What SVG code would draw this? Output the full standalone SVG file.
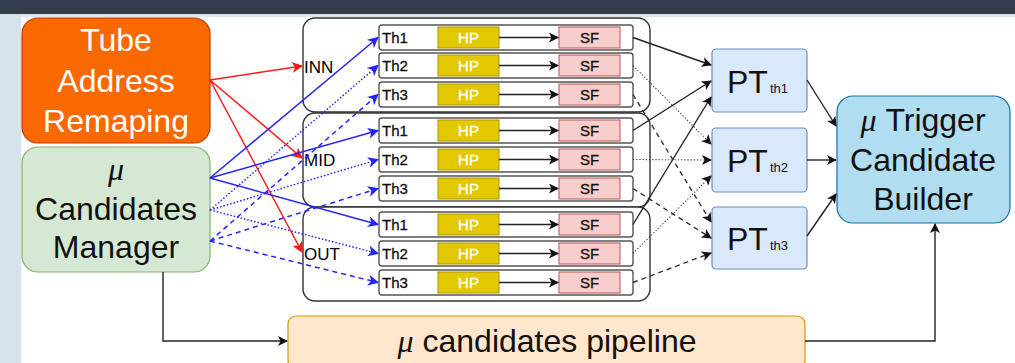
<svg xmlns="http://www.w3.org/2000/svg" width="1015" height="363" viewBox="0 0 1015 363">
<style>
.t{font-family:"Liberation Sans",Arial,sans-serif}
.mu{font-family:"Liberation Serif","Times New Roman",serif;font-style:italic}
.big{font-size:32px}
.grp{fill:#fff;stroke:#333;stroke-width:1.4}
.row{fill:#fff;stroke:#555;stroke-width:1.4}
.hp{fill:#e3c800;stroke:#b09500;stroke-width:1}
.sf{fill:#f8cecc;stroke:#b85450;stroke-width:1}
.pt{fill:#dae8fc;stroke:#6c8ebf;stroke-width:1.2}
.lbl{font-size:15px;fill:#111;stroke:#111;stroke-width:0.3}
.hpl{fill:#fff;stroke:#fff}
.red{stroke:#ff1a1a;stroke-width:1.5;fill:none;marker-end:url(#ar)}
.blue{stroke:#2424ff;stroke-width:1.5;fill:none;marker-end:url(#ab)}
.dot{stroke-dasharray:1.5 2}
.dash{stroke-dasharray:5 4}
.blk{stroke:#222;stroke-width:1.4;fill:none;marker-end:url(#ak)}
.bdot{stroke:#333;stroke-width:1.1;stroke-dasharray:1.2 2}
.bdash{stroke:#333;stroke-width:1.4;stroke-dasharray:5 4}
</style>
<defs>
<marker id="ak" markerWidth="10" markerHeight="10" refX="9" refY="5" orient="auto" markerUnits="userSpaceOnUse"><path d="M0,0 L10,5 L0,10 L2.5,5 Z" fill="#111"/></marker>
<marker id="ar" markerWidth="11" markerHeight="11" refX="10" refY="5.5" orient="auto" markerUnits="userSpaceOnUse"><path d="M0,0 L11,5.5 L0,11 L3,5.5 Z" fill="#ff1a1a"/></marker>
<marker id="ab" markerWidth="11" markerHeight="11" refX="10" refY="5.5" orient="auto" markerUnits="userSpaceOnUse"><path d="M0,0 L11,5.5 L0,11 L3,5.5 Z" fill="#2424ff"/></marker>
</defs>
<rect width="1015" height="363" fill="#fff"/>
<rect x="0" y="0" width="1015" height="14" fill="#333d4f"/>
<rect x="0" y="14" width="1015" height="3" fill="#dde6e9"/>
<rect x="0" y="14" width="21" height="349" fill="#d6e3e9"/>

<g id="tube-address-remaping">
<rect x="22" y="18" width="188" height="125" rx="16" fill="#fa6800" stroke="#c73500" stroke-width="1.2"/>
<text class="t big" fill="#fff" text-anchor="middle" x="116" y="51">Tube</text>
<text class="t big" fill="#fff" text-anchor="middle" x="116" y="92">Address</text>
<text class="t big" fill="#fff" text-anchor="middle" x="116" y="132">Remaping</text>
</g>

<g id="candidates-manager">
<rect x="22" y="147" width="188" height="125" rx="16" fill="#d5e8d4" stroke="#82b366" stroke-width="1.2"/>
<text class="mu big" fill="#111" text-anchor="middle" x="116" y="180">μ</text>
<text class="t big" fill="#111" text-anchor="middle" x="116" y="220">Candidates</text>
<text class="t big" fill="#111" text-anchor="middle" x="116" y="258">Manager</text>
</g>

<g id="group-inn">
<rect class="grp" x="303" y="18" width="347" height="94" rx="12"/>
<text class="t" font-size="17" x="304" y="73">INN</text>
</g>
<g id="group-mid">
<rect class="grp" x="303" y="113" width="347" height="94" rx="12"/>
<text class="t" font-size="17" x="304" y="166">MID</text>
</g>
<g id="group-out">
<rect class="grp" x="303" y="207" width="347" height="94" rx="12"/>
<text class="t" font-size="17" x="304" y="260">OUT</text>
</g>

<g id="inn-th1"><rect class="row" x="379" y="25" width="254" height="25" rx="3"/><text class="t lbl" x="382" y="43">Th1</text><rect class="hp" x="438" y="27" width="61" height="21"/><text class="t lbl hpl" text-anchor="middle" x="468.5" y="43">HP</text><rect class="sf" x="559" y="27" width="61" height="21"/><text class="t lbl" text-anchor="middle" x="589.5" y="43">SF</text></g>
<g id="inn-th2"><rect class="row" x="379" y="53" width="254" height="25" rx="3"/><text class="t lbl" x="382" y="71">Th2</text><rect class="hp" x="438" y="55" width="61" height="21"/><text class="t lbl hpl" text-anchor="middle" x="468.5" y="71">HP</text><rect class="sf" x="559" y="55" width="61" height="21"/><text class="t lbl" text-anchor="middle" x="589.5" y="71">SF</text></g>
<g id="inn-th3"><rect class="row" x="379" y="82" width="254" height="25" rx="3"/><text class="t lbl" x="382" y="100">Th3</text><rect class="hp" x="438" y="84" width="61" height="21"/><text class="t lbl hpl" text-anchor="middle" x="468.5" y="100">HP</text><rect class="sf" x="559" y="84" width="61" height="21"/><text class="t lbl" text-anchor="middle" x="589.5" y="100">SF</text></g>

<g id="mid-th1"><rect class="row" x="379" y="118" width="254" height="25" rx="3"/><text class="t lbl" x="382" y="136">Th1</text><rect class="hp" x="438" y="120" width="61" height="21"/><text class="t lbl hpl" text-anchor="middle" x="468.5" y="136">HP</text><rect class="sf" x="559" y="120" width="61" height="21"/><text class="t lbl" text-anchor="middle" x="589.5" y="136">SF</text></g>
<g id="mid-th2"><rect class="row" x="379" y="147" width="254" height="25" rx="3"/><text class="t lbl" x="382" y="165">Th2</text><rect class="hp" x="438" y="149" width="61" height="21"/><text class="t lbl hpl" text-anchor="middle" x="468.5" y="165">HP</text><rect class="sf" x="559" y="149" width="61" height="21"/><text class="t lbl" text-anchor="middle" x="589.5" y="165">SF</text></g>
<g id="mid-th3"><rect class="row" x="379" y="176" width="254" height="25" rx="3"/><text class="t lbl" x="382" y="194">Th3</text><rect class="hp" x="438" y="178" width="61" height="21"/><text class="t lbl hpl" text-anchor="middle" x="468.5" y="194">HP</text><rect class="sf" x="559" y="178" width="61" height="21"/><text class="t lbl" text-anchor="middle" x="589.5" y="194">SF</text></g>

<g id="out-th1"><rect class="row" x="379" y="212" width="254" height="25" rx="3"/><text class="t lbl" x="382" y="230">Th1</text><rect class="hp" x="438" y="214" width="61" height="21"/><text class="t lbl hpl" text-anchor="middle" x="468.5" y="230">HP</text><rect class="sf" x="559" y="214" width="61" height="21"/><text class="t lbl" text-anchor="middle" x="589.5" y="230">SF</text></g>
<g id="out-th2"><rect class="row" x="379" y="241" width="254" height="25" rx="3"/><text class="t lbl" x="382" y="259">Th2</text><rect class="hp" x="438" y="243" width="61" height="21"/><text class="t lbl hpl" text-anchor="middle" x="468.5" y="259">HP</text><rect class="sf" x="559" y="243" width="61" height="21"/><text class="t lbl" text-anchor="middle" x="589.5" y="259">SF</text></g>
<g id="out-th3"><rect class="row" x="379" y="270" width="254" height="25" rx="3"/><text class="t lbl" x="382" y="288">Th3</text><rect class="hp" x="438" y="272" width="61" height="21"/><text class="t lbl hpl" text-anchor="middle" x="468.5" y="288">HP</text><rect class="sf" x="559" y="272" width="61" height="21"/><text class="t lbl" text-anchor="middle" x="589.5" y="288">SF</text></g>

<g id="pt-th1"><rect class="pt" x="712" y="49" width="95" height="63" rx="4"/><text class="t" fill="#111" x="727" y="93"><tspan font-size="32">PT</tspan><tspan font-size="13" dx="2">th1</tspan></text></g>
<g id="pt-th2"><rect class="pt" x="712" y="128" width="95" height="64" rx="4"/><text class="t" fill="#111" x="727" y="172"><tspan font-size="32">PT</tspan><tspan font-size="13" dx="2">th2</tspan></text></g>
<g id="pt-th3"><rect class="pt" x="712" y="207" width="95" height="62" rx="4"/><text class="t" fill="#111" x="727" y="250"><tspan font-size="32">PT</tspan><tspan font-size="13" dx="2">th3</tspan></text></g>

<g id="trigger-candidate-builder">
<rect x="837" y="96" width="173" height="127" rx="16" fill="#b1ddf0" stroke="#10739e" stroke-width="1.2"/>
<text class="t big" fill="#111" text-anchor="middle" x="923" y="131"><tspan class="mu">μ</tspan> Trigger</text>
<text class="t big" fill="#111" text-anchor="middle" x="923" y="171">Candidate</text>
<text class="t big" fill="#111" text-anchor="middle" x="923" y="210">Builder</text>
</g>

<g id="candidates-pipeline">
<rect x="288" y="316" width="517" height="52" rx="8" fill="#ffe6cc" stroke="#d79b00" stroke-width="1.2"/>
<text class="t big" fill="#111" text-anchor="middle" x="547" y="352"><tspan class="mu">μ</tspan> candidates pipeline</text>
</g>

<g id="connectors">
<line class="blk" x1="499" y1="37.5" x2="558" y2="37.5"/>
<line class="blk" x1="499" y1="65.5" x2="558" y2="65.5"/>
<line class="blk" x1="499" y1="94.5" x2="558" y2="94.5"/>
<line class="blk" x1="499" y1="130.5" x2="558" y2="130.5"/>
<line class="blk" x1="499" y1="159.5" x2="558" y2="159.5"/>
<line class="blk" x1="499" y1="188.5" x2="558" y2="188.5"/>
<line class="blk" x1="499" y1="224.5" x2="558" y2="224.5"/>
<line class="blk" x1="499" y1="253.5" x2="558" y2="253.5"/>
<line class="blk" x1="499" y1="282.5" x2="558" y2="282.5"/>

<line class="red" x1="210" y1="80" x2="302" y2="66"/>
<line class="red" x1="210" y1="80" x2="302" y2="158"/>
<line class="red" x1="210" y1="80" x2="302" y2="252"/>

<line class="blue" x1="210" y1="178" x2="378" y2="37.5"/>
<line class="blue" x1="210" y1="178" x2="378" y2="130.5"/>
<line class="blue" x1="210" y1="178" x2="378" y2="224.5"/>
<line class="blue dot" x1="210" y1="210" x2="378" y2="65.5"/>
<line class="blue dot" x1="210" y1="210" x2="378" y2="159.5"/>
<line class="blue dot" x1="210" y1="210" x2="378" y2="253.5"/>
<line class="blue dash" x1="210" y1="241" x2="378" y2="94.5"/>
<line class="blue dash" x1="210" y1="241" x2="378" y2="188.5"/>
<line class="blue dash" x1="210" y1="241" x2="378" y2="282.5"/>

<line class="blk" x1="633" y1="37.5" x2="711" y2="65"/>
<line class="blk" x1="633" y1="130.5" x2="711" y2="81"/>
<line class="blk" x1="633" y1="224.5" x2="711" y2="97"/>
<line class="blk bdot" x1="633" y1="65.5" x2="711" y2="144"/>
<line class="blk bdot" x1="633" y1="159.5" x2="711" y2="160"/>
<line class="blk bdot" x1="633" y1="253.5" x2="711" y2="176"/>
<line class="blk bdash" x1="633" y1="94.5" x2="711" y2="222"/>
<line class="blk bdash" x1="633" y1="188.5" x2="711" y2="238"/>
<line class="blk bdash" x1="633" y1="282.5" x2="711" y2="253"/>

<line class="blk" x1="807" y1="80" x2="836" y2="126"/>
<line class="blk" x1="807" y1="160" x2="836" y2="160"/>
<line class="blk" x1="807" y1="236" x2="836" y2="194"/>

<path class="blk" d="M163,272 V341 H287"/>
<path class="blk" d="M805,341 H935 V224"/>
</g>
</svg>
